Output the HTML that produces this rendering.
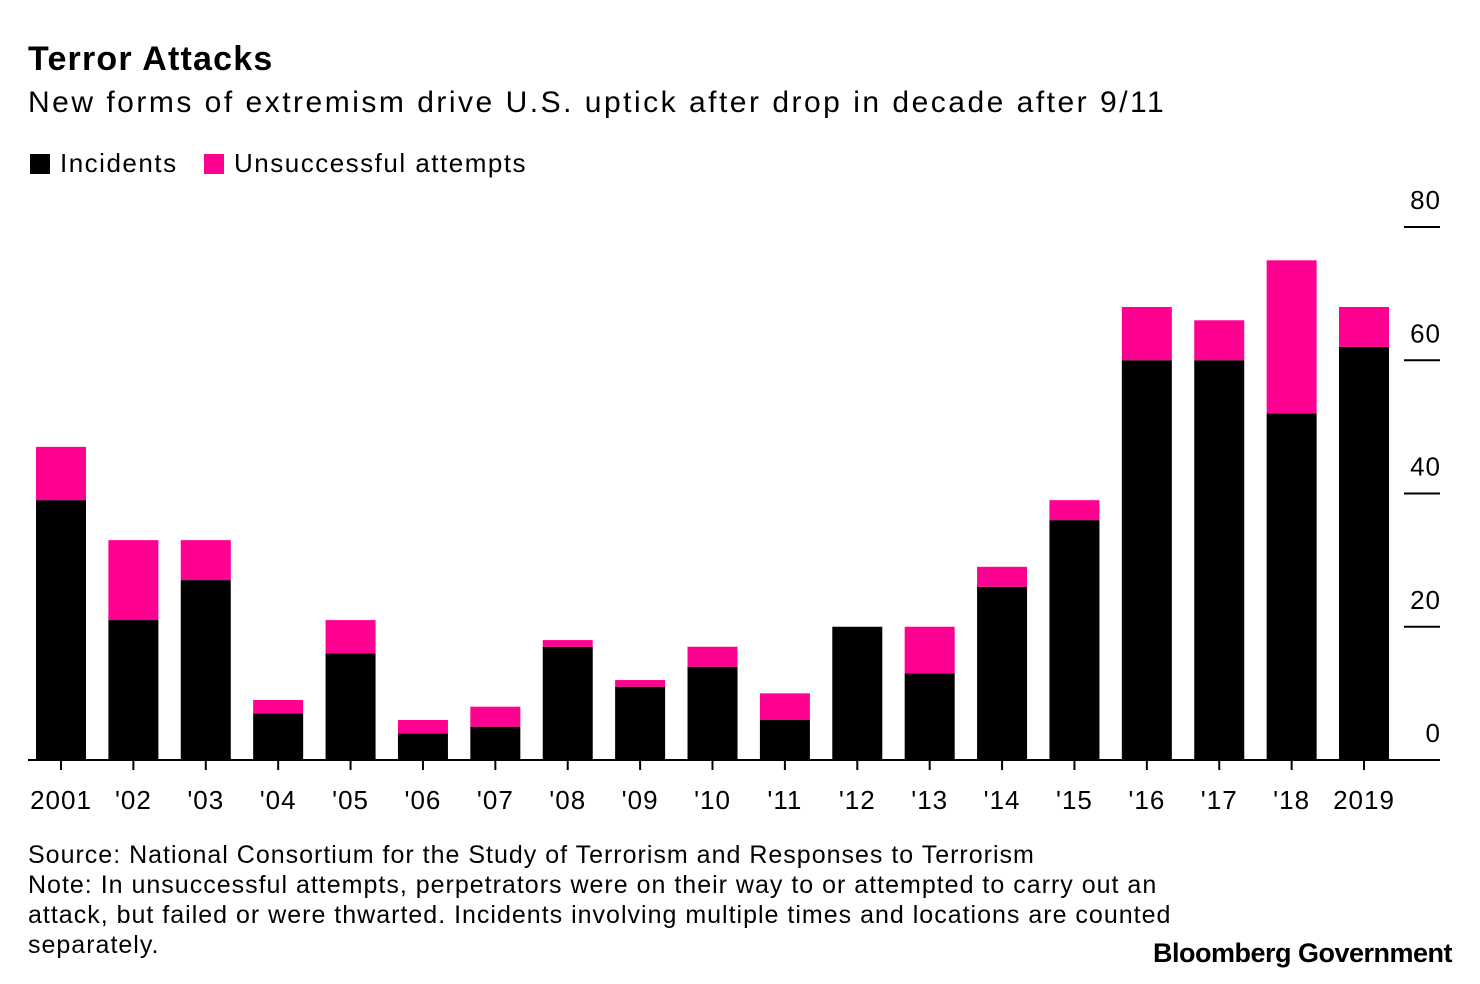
<!DOCTYPE html>
<html><head><meta charset="utf-8"><style>
body{margin:0;background:#fff;font-family:"Liberation Sans",sans-serif;}
#wrap{position:relative;width:1480px;height:984px;overflow:hidden;}
.t{position:absolute;white-space:nowrap;color:#000;}
</style></head><body>
<div id="wrap">
<div class="t" style="left:28px;top:40px;font-size:34px;font-weight:bold;letter-spacing:1.2px">Terror Attacks</div>
<div class="t" style="left:28px;top:86px;font-size:30px;letter-spacing:2.5px">New forms of extremism drive U.S. uptick after drop in decade after 9/11</div>
<div class="t" style="left:30px;top:148px;font-size:26px;letter-spacing:1.5px"><span style="display:inline-block;width:20px;height:20px;background:#000;vertical-align:-2px;margin-right:10px"></span>Incidents</div>
<div class="t" style="left:204px;top:148px;font-size:26px;letter-spacing:1.5px"><span style="display:inline-block;width:20px;height:20px;background:#ff0090;vertical-align:-2px;margin-right:10px"></span>Unsuccessful attempts</div>
<svg id="chart" width="1480" height="984" style="position:absolute;left:0;top:0"></svg>
<div class="t" style="left:28px;top:840px;font-size:25px;line-height:30px;letter-spacing:1px">Source: National Consortium for the Study of Terrorism and Responses to Terrorism<br>Note: In unsuccessful attempts, perpetrators were on their way to or attempted to carry out an<br>attack, but failed or were thwarted. Incidents involving multiple times and locations are counted<br>separately.</div>
<div class="t" style="right:28px;top:938px;font-size:27px;font-weight:bold;letter-spacing:-0.5px">Bloomberg Government</div>
</div>
<script>
const categories=["2001","'02","'03","'04","'05","'06","'07","'08","'09","'10","'11","'12","'13","'14","'15","'16","'17","'18","2019"];
const incidents=[39,21,27,7,16,4,5,17,11,14,6,20,13,26,36,60,60,52,62];
const unsuccessful=[8,12,6,2,5,2,3,1,1,3,4,0,7,3,3,8,6,23,6];
const yTicks=[0,20,40,60,80];
const NS="http://www.w3.org/2000/svg";
const svg=document.getElementById('chart');
const y0=760,pxPer=(760-227)/80;
function y(v){return y0-v*pxPer;}
function x(i){return 61+i*72.39;}
const bw=50;
function mk(tag,attrs){const e=document.createElementNS(NS,tag);for(const k in attrs)e.setAttribute(k,attrs[k]);svg.appendChild(e);return e;}
yTicks.forEach(v=>{
  if(v>0){const l=mk('line',{x1:1404,x2:1440,y1:y(v),y2:y(v),stroke:'#000','stroke-width':2});
  
  }
  const t=mk('text',{x:1441,y:y(v)-18,'text-anchor':'end','font-size':26,'letter-spacing':1,'font-family':'Liberation Sans, sans-serif'});
  t.textContent=v;
  
  
});
categories.forEach((c,i)=>{
  const b=mk('rect',{x:x(i)-bw/2,y:y(incidents[i]),width:bw,height:incidents[i]*pxPer,fill:'#000'});
  
  
  const u=mk('rect',{x:x(i)-bw/2,y:y(incidents[i]+unsuccessful[i]),width:bw,height:unsuccessful[i]*pxPer,fill:'#ff0090'});
  
  
  const tk=mk('line',{x1:x(i),x2:x(i),y1:y0,y2:y0+10,stroke:'#000','stroke-width':2});
  
  
  const t=mk('text',{x:x(i),y:809,'text-anchor':'middle','font-size':26,'letter-spacing':1,'font-family':'Liberation Sans, sans-serif'});
  t.textContent=c;
  
  
});
const base=mk('line',{x1:28,x2:1440,y1:y0,y2:y0,stroke:'#000','stroke-width':2});


</script>
</body></html>
